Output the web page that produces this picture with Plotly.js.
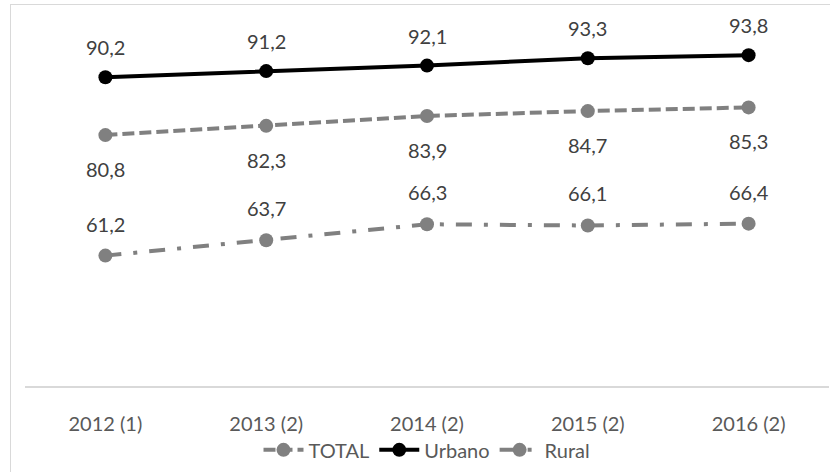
<!DOCTYPE html>
<html>
<head>
<meta charset="utf-8">
<script src="https://cdn.plot.ly/plotly-3.0.1.min.js"></script>
<style>
html,body{margin:0;padding:0;background:#fff;}
#wrap{position:relative;width:830px;height:472px;overflow:hidden;}
#chart{position:absolute;left:0;top:0;width:830px;height:472px;}
#frame{position:absolute;left:10px;top:4px;width:900px;height:500px;border-left:1.5px solid #d9d9d9;border-top:1.5px solid #d9d9d9;pointer-events:none;}
</style>
</head>
<body>
<div id="wrap"><div id="chart"></div><div id="frame"></div></div>
<script>
const categories = ["2012 (1)", "2013 (2)", "2014 (2)", "2015 (2)", "2016 (2)"];
const totalValues = [80.8, 82.3, 83.9, 84.7, 85.3];
const urbanoValues = [90.2, 91.2, 92.1, 93.3, 93.8];
const ruralValues = [61.2, 63.7, 66.3, 66.1, 66.4];

function fmt(v){ return v.toFixed(1).replace('.', ','); }

const FONT = "Lato, 'Open Sans', sans-serif";
const labelFont = {family: FONT, size: 20, color: "#404040"};

const traces = [
  {
    name: "TOTAL", x: categories, y: totalValues, type: "scatter", mode: "lines+markers",
    line: {color: "#808080", width: 4, dash: "12px,5px"},
    marker: {color: "#808080", size: 14}, cliponaxis: false
  },
  {
    name: "Urbano", x: categories, y: urbanoValues, type: "scatter", mode: "lines+markers",
    line: {color: "#000000", width: 4},
    marker: {color: "#000000", size: 14}, cliponaxis: false
  },
  {
    name: "Rural", x: categories, y: ruralValues, type: "scatter", mode: "lines+markers",
    line: {color: "#808080", width: 4, dash: "16px,12px,4px,12px"},
    marker: {color: "#808080", size: 14}, cliponaxis: false
  }
];

function labels(vals, shift){
  return vals.map((v, i) => ({
    x: categories[i], y: v, xref: "x", yref: "y", text: fmt(v), showarrow: false,
    yshift: shift, font: labelFont, xanchor: "center", yanchor: "middle"
  }));
}

const annotations = [].concat(
  labels(urbanoValues, 30),
  labels(totalValues, -34),
  labels(ruralValues, 32)
);

const layout = {
  width: 830, height: 472,
  margin: {l: 25, r: 1, t: 17, b: 86},
  paper_bgcolor: "rgba(0,0,0,0)", plot_bgcolor: "rgba(0,0,0,0)",
  font: {family: FONT, size: 20, color: "#595959"},
  showlegend: true,
  legend: {orientation: "h", x: 0.5, xanchor: "center", y: -0.173, yanchor: "middle",
           font: {family: FONT, size: 20, color: "#595959"}, traceorder: "normal",
           itemwidth: 40, tracegroupgap: 0},
  annotations: annotations,
  xaxis: {type: "category", range: [-0.5, 4.5], showgrid: false, zeroline: false, showline: true,
          linecolor: "#d9d9d9", linewidth: 1.5, ticks: "outside", ticklen: 19,
          tickcolor: "rgba(0,0,0,0)", tickfont: {family: FONT, size: 20, color: "#595959"}, fixedrange: true},
  yaxis: {range: [40, 100], showgrid: false, zeroline: false, showline: false,
          showticklabels: false, ticks: "", fixedrange: true}
};

Plotly.newPlot("chart", traces, layout, {displayModeBar: false, staticPlot: true});
</script>
</body>
</html>
